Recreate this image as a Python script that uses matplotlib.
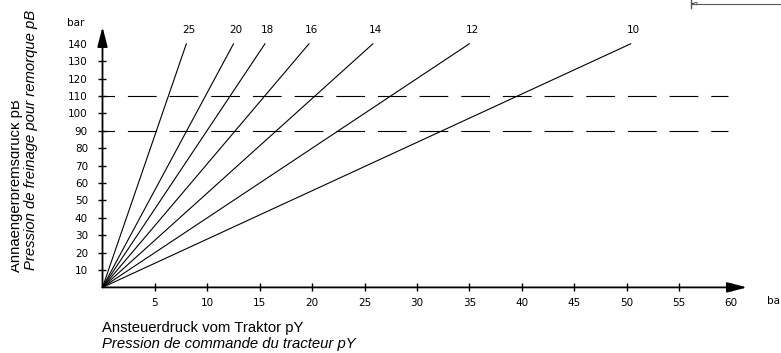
import matplotlib
matplotlib.use("Agg")
import matplotlib.pyplot as plt
from matplotlib.lines import Line2D
from matplotlib.patches import Rectangle

plt.rcParams['lines.scale_dashes'] = False

# Ratio curves: label and the control pressure (pY) at which each reaches 140 bar
ratio_labels = ["25", "20", "18", "16", "14", "12", "10"]
end_py = [8.0, 12.5, 15.5, 19.7, 25.8, 35.0, 50.4]
end_pb = 140

# Reference pressure levels (dashed)
ref_levels = [90, 110]
ref_x_end = 59.7

x_ticks = [5, 10, 15, 20, 25, 30, 35, 40, 45, 50, 55, 60]
y_ticks = [10, 20, 30, 40, 50, 60, 70, 80, 90, 100, 110, 120, 130, 140]

xlabel_de = "Ansteuerdruck vom Traktor pY"
xlabel_fr = "Pression de commande du tracteur pY"
ylabel_de = "Anhaengerbremsdruck pB"
ylabel_fr = "Pression de freinage pour remorque pB"
unit = "bar"

W, H = 781, 353
fig = plt.figure(figsize=(W / 100, H / 100), dpi=100)

# Axes geometry in pixels
ox, oy = 102.5, 287.4          # origin
sx, sy = 10.48, 1.74           # pixels per unit
xmax, ymax = 61.5, 149.7
ax = fig.add_axes([ox / W, (H - oy) / H, xmax * sx / W, ymax * sy / H])
ax.set_xlim(0, xmax)
ax.set_ylim(0, ymax)
for s in ax.spines.values():
    s.set_visible(False)
ax.patch.set_visible(False)

tick_font = dict(family="DejaVu Sans", size=7.5)

# Axis lines with arrow heads
arrow = dict(arrowstyle="-|>,head_length=0.85,head_width=0.22", lw=1.3,
             color="black", shrinkA=0, shrinkB=0, mutation_scale=14)
ax.annotate("", xy=(xmax, 0), xytext=(0, 0), arrowprops=arrow, annotation_clip=False)
ax.annotate("", xy=(0, ymax), xytext=(0, 0), arrowprops=arrow, annotation_clip=False)

ax.set_xticks(x_ticks)
ax.set_yticks(y_ticks)
ax.set_xticklabels([str(v) for v in x_ticks], **tick_font)
ax.set_yticklabels([str(v) for v in y_ticks], **tick_font)
ax.tick_params(axis="both", direction="inout", length=6, width=1.0, color="black")
ax.tick_params(axis="x", pad=4.5)
ax.tick_params(axis="y", pad=7.5)

# Dashed reference levels
for lvl in ref_levels:
    ax.plot([0, ref_x_end], [lvl, lvl], color="black", lw=0.8,
            linestyle=(11.7, (20.7, 9.3)), clip_on=False)

# Ratio lines from origin
for lab, xe in zip(ratio_labels, end_py):
    ax.plot([0, xe], [0, end_pb], color="black", lw=0.8, clip_on=False)
    ax.annotate(lab, xy=(xe, end_pb), xytext=(2, 10), textcoords="offset points",
                ha="center", va="center", annotation_clip=False, **tick_font)

# Units
ax.text(-35 / sx, (oy - 23) / sy, unit, ha="left", va="center",
        clip_on=False, **tick_font)
fig.text(766.7 / W, 1 - 304 / H, unit, ha="left", va="baseline", **tick_font)

# Axis titles
lab_font = dict(family="Liberation Sans", size=10.7)
fig.text(ox / W, 1 - 332 / H, xlabel_de, ha="left", va="baseline", **lab_font)
fig.text(ox / W, 1 - 348 / H, xlabel_fr, ha="left", va="baseline",
         style="italic", **lab_font)

t1 = fig.text(20 / W, 1 - 272 / H, ylabel_de, rotation=90, rotation_mode="anchor",
              ha="left", va="baseline", **lab_font)
t1.set_clip_path(Rectangle((10.5 / W, 0), 1, 1, transform=fig.transFigure))
t1.set_clip_on(True)
fig.text(34.5 / W, 1 - 270 / H, ylabel_fr, rotation=90, rotation_mode="anchor",
         ha="left", va="baseline", style="italic", **lab_font)

# Dimension marker at the top right
gray = "#555555"
fig.add_artist(Line2D([692 / W, 1.0], [1 - 3.5 / H, 1 - 3.5 / H],
                      transform=fig.transFigure, color=gray, lw=0.8))
fig.add_artist(Line2D([690.5 / W, 690.5 / W], [1.0, 1 - 7.5 / H],
                      transform=fig.transFigure, color=gray, lw=1.0))
fig.add_artist(Line2D([692 / W, 697 / W, 697 / W, 692 / W],
                      [1 - 3.5 / H, 1 - 2.2 / H, 1 - 4.8 / H, 1 - 3.5 / H],
                      transform=fig.transFigure, color=gray, lw=0.6))

fig.savefig("out.png", dpi=100)
